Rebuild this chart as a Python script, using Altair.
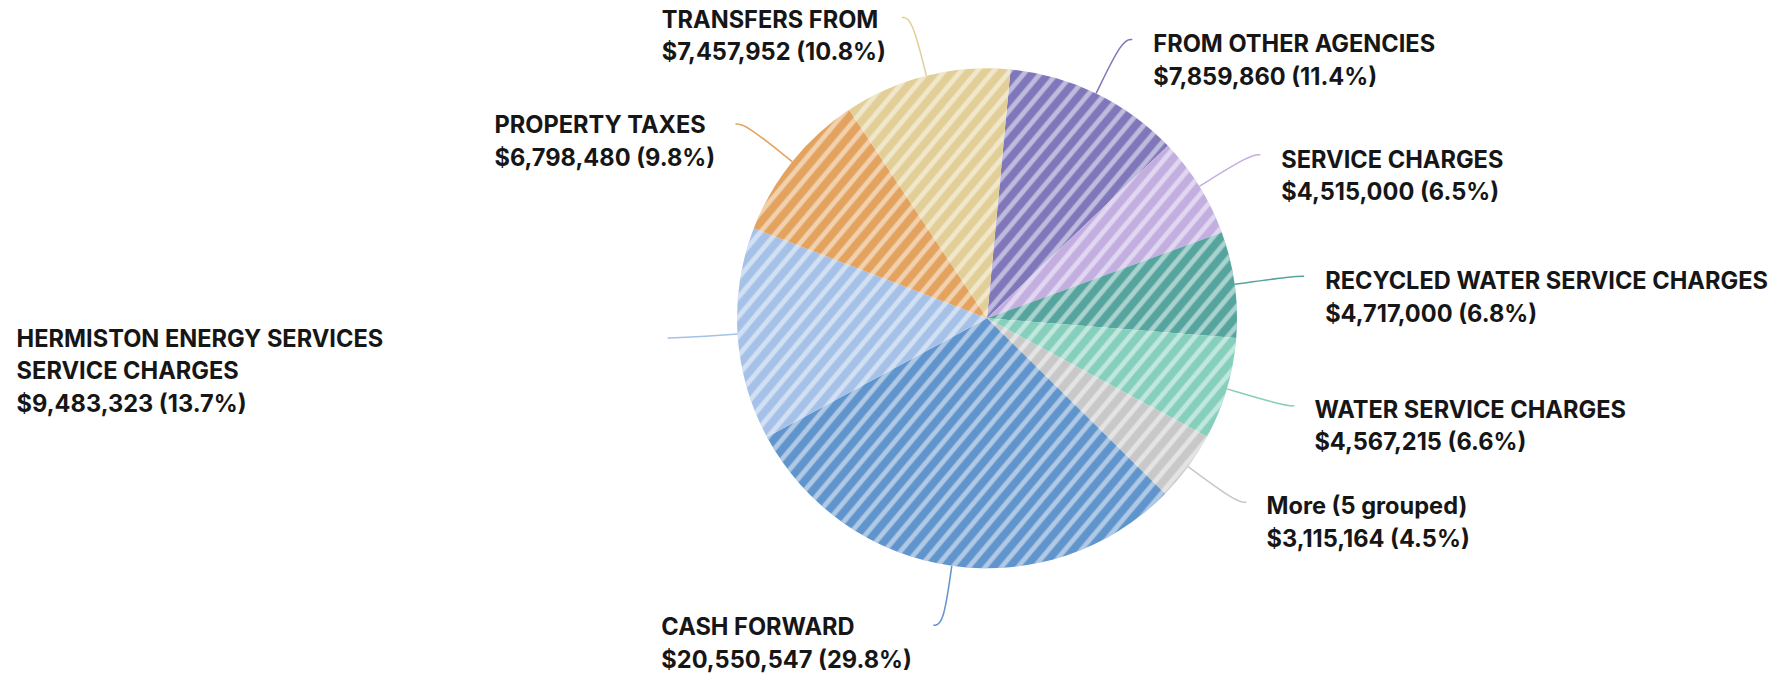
import math
import altair as alt
import pandas as pd

# ---------------- data ----------------
categories = [
    "FROM OTHER AGENCIES",
    "SERVICE CHARGES",
    "RECYCLED WATER SERVICE CHARGES",
    "WATER SERVICE CHARGES",
    "More (5 grouped)",
    "CASH FORWARD",
    "HERMISTON ENERGY SERVICES SERVICE CHARGES",
    "PROPERTY TAXES",
    "TRANSFERS FROM",
]
amounts = [7859860, 4515000, 4717000, 4567215, 3115164, 20550547, 9483323, 6798480, 7457952]
slice_colors = ["#8077bb", "#c3aee0", "#55a59e", "#85cfbc", "#c8c8c8",
                "#6094cc", "#a6c1e8", "#e3a25e", "#e2cf98"]

# ---------------- layout / style ----------------
W, H = 1775, 669
CX, CY = 979.0, 310.3          # pie centre inside the view
R_PIE = 250
R_LEAD = 310
HOOK = 10
START = math.radians(5.4)     # rotation of first slice from 12 o'clock
FONT = "Inter"
FS = 23.6
LH = 32.5
WRAP = {"HERMISTON ENERGY SERVICES SERVICE CHARGES": "HERMISTON ENERGY SERVICES\nSERVICE CHARGES"}
# label offsets (dx, dy) from the end of each leader line
LABEL_OFFSET = {
    0: (21, 13), 1: (21, 13), 2: (21, 13), 3: (20, 12), 4: (20, 12),
    5: (-272, 10), 6: (-651, 9), 7: (-241, 9), 8: (-240, 10),
}

total = sum(amounts)
labels = []
for c, a in zip(categories, amounts):
    name = WRAP.get(c, c)
    labels.append(f"{name}\n${a:,} ({100 * a / total:.1f}%)")

df = pd.DataFrame({
    "idx": list(range(len(categories))),
    "cat": categories,
    "amount": amounts,
    "label": labels,
})

color_scale = alt.Scale(domain=categories, range=slice_colors)


def geo(ch):
    return (ch.transform_joinaggregate(total="sum(amount)")
              .transform_window(cum="sum(amount)", sort=[alt.SortField("idx")], frame=[None, 0])
              .transform_calculate(mid=f"{START} + 2*PI*(datum.cum - datum.amount/2)/datum.total")
              .transform_calculate(side="sin(datum.mid) >= 0 ? 1 : -1"))


pie = alt.Chart(df).mark_arc(outerRadius=R_PIE).encode(
    theta=alt.Theta("amount:Q", stack=True,
                    scale=alt.Scale(range=[START, START + 2 * math.pi], nice=False, zero=True)),
    color=alt.Color("cat:N", scale=color_scale, legend=None),
    order=alt.Order("idx:Q"),
    x=alt.value(CX), y=alt.value(CY),
)

# diagonal stripe texture over the whole pie
ANG = math.radians(50)        # stripe direction from horizontal
N = 40
A = 0.5
gu, gv = math.sin(ANG), math.cos(ANG)
stops = []
for i in range(N):
    b = i / N
    w = 1 / N
    for f, al in [(0.0, 0), (0.42, 0), (0.57, A), (0.80, A), (0.95, 0)]:
        stops.append(alt.GradientStop(offset=round(b + f * w, 5), color=f"rgba(255,255,255,{al})"))
stops.append(alt.GradientStop(offset=1.0, color="rgba(255,255,255,0)"))
grad = alt.LinearGradient(gradient="linear", stops=stops,
                          x1=round(0.5 - 0.5 * gu, 4), y1=round(0.5 - 0.5 * gv, 4),
                          x2=round(0.5 + 0.5 * gu, 4), y2=round(0.5 + 0.5 * gv, 4))

stripe_df = pd.DataFrame({"v": [1]})
stripes = alt.Chart(stripe_df).mark_arc(outerRadius=R_PIE, fill=grad).encode(
    theta=alt.Theta("v:Q"),
    x=alt.value(CX), y=alt.value(CY),
)

leaders = (geo(alt.Chart(df))
           .transform_calculate(step="[0, 1, 2]")
           .transform_flatten(["step"])
           .transform_calculate(r=f"datum.step == 0 ? {R_PIE} : {R_LEAD}")
           .transform_calculate(px=f"{CX} + datum.r*sin(datum.mid) + (datum.step == 2 ? {HOOK}*datum.side : 0)")
           .transform_calculate(py=f"{CY} - datum.r*cos(datum.mid)")
           .mark_line(interpolate="basis", strokeWidth=1.5)
           .encode(
               x=alt.X("px:Q", scale=None, axis=None),
               y=alt.Y("py:Q", scale=None, axis=None),
               color=alt.Color("cat:N", scale=color_scale, legend=None),
               detail="cat:N",
               order="step:Q",
           ))

text_layers = []
for i in range(len(categories)):
    dx, dy = LABEL_OFFSET[i]
    t = (geo(alt.Chart(df))
         .transform_filter(f"datum.idx == {i}")
         .transform_calculate(lx=f"{CX} + {R_LEAD}*sin(datum.mid) + {HOOK}*datum.side")
         .transform_calculate(ly=f"{CY} - {R_LEAD}*cos(datum.mid)")
         .mark_text(align="left", baseline="alphabetic", dx=dx, dy=dy, lineBreak="\n",
                    font=FONT, fontSize=FS, fontWeight="bold", lineHeight=LH, color="#161616")
         .encode(
             x=alt.X("lx:Q", scale=None, axis=None),
             y=alt.Y("ly:Q", scale=None, axis=None),
             text="label:N",
         ))
    text_layers.append(t)

chart = (alt.layer(pie, stripes, leaders, *text_layers)
         .resolve_scale(theta="independent")
         .properties(width=W, height=H, padding=0,
                     autosize=alt.AutoSizeParams(type="none"),
                     background="white")
         .configure_view(stroke=None))

chart.save("out.html", embed_options={"renderer": "svg", "actions": False})
